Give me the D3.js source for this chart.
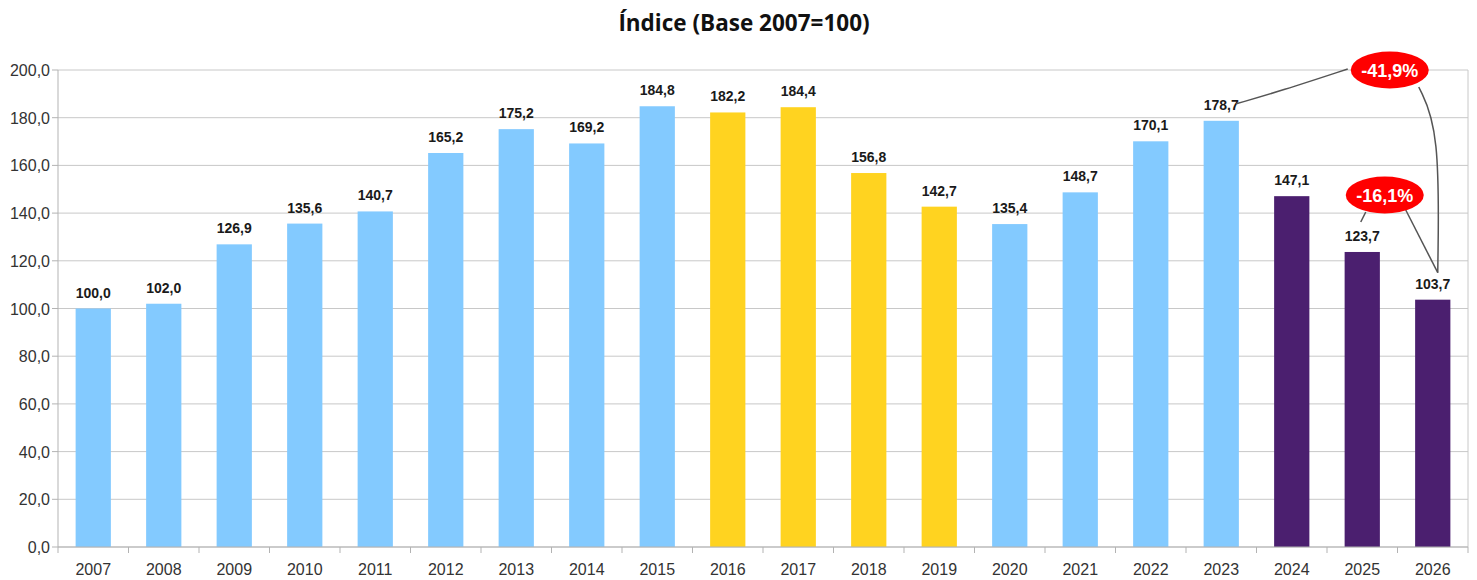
<!DOCTYPE html>
<html>
<head>
<meta charset="utf-8">
<script src="https://cdn.jsdelivr.net/npm/d3@7"></script>
<style>
  body { margin: 0; background: #fff; }
</style>
</head>
<body>
<div id="chart"></div>
<script>
// data
var years = ["2007","2008","2009","2010","2011","2012","2013","2014","2015","2016",
             "2017","2018","2019","2020","2021","2022","2023","2024","2025","2026"];
var values = [100.0, 102.0, 126.9, 135.6, 140.7, 165.2, 175.2, 169.2, 184.8, 182.2,
              184.4, 156.8, 142.7, 135.4, 148.7, 170.1, 178.7, 147.1, 123.7, 103.7];
// group of each bar: 0 = blue, 1 = yellow, 2 = purple
var groups = [0,0,0,0,0,0,0,0,0,1, 1,1,1,0,0,0,0,2,2,2];
var yTicks = [0, 20, 40, 60, 80, 100, 120, 140, 160, 180, 200];
var changes = [
  {label: "-41,9%", from: "2023", to: "2026"},
  {label: "-16,1%", from: "2025", to: "2026"}
];

var colors = ["#83caff", "#ffd320", "#4b1f6f"];
var fmt = function(v) { return d3.format(".1f")(v).replace(".", ","); };

// set the dimensions and margins of the graph
var margin = {top: 70, right: 9, bottom: 33, left: 58},
    width = 1477 - margin.left - margin.right,
    height = 580 - margin.top - margin.bottom;

var root = d3.select("#chart")
  .append("svg")
    .attr("width", 1477)
    .attr("height", 580);

// title
root.append("text")
  .attr("x", 744)
  .attr("y", 31)
  .attr("text-anchor", "middle")
  .style("font-family", "'Open Sans', sans-serif")
  .style("font-weight", "bold")
  .style("font-size", "22.5px")
  .style("fill", "#111")
  .text("Índice (Base 2007=100)");

var svg = root.append("g")
  .attr("transform", "translate(" + margin.left + "," + margin.top + ")");

var x = d3.scaleBand()
  .domain(years)
  .range([0, width])
  .paddingInner(0.5)
  .paddingOuter(0.25);

var y = d3.scaleLinear()
  .domain([0, 200])
  .range([height, 0]);

// gridlines
svg.append("g")
  .selectAll("line")
  .data(yTicks)
  .enter()
  .append("line")
    .attr("x1", 0)
    .attr("x2", width)
    .attr("y1", function(d) { return y(d); })
    .attr("y2", function(d) { return y(d); })
    .style("stroke", "#c8c8c8")
    .style("stroke-width", 1);

// right border
svg.append("line")
  .attr("x1", width).attr("x2", width)
  .attr("y1", 0).attr("y2", height)
  .style("stroke", "#c8c8c8");

// bars
svg.append("g")
  .selectAll("rect")
  .data(values)
  .enter()
  .append("rect")
    .attr("x", function(d, i) { return x(years[i]); })
    .attr("y", function(d) { return y(d); })
    .attr("width", x.bandwidth())
    .attr("height", function(d) { return height - y(d); })
    .style("fill", function(d, i) { return colors[groups[i]]; });

// value labels
svg.append("g")
  .selectAll("text")
  .data(values)
  .enter()
  .append("text")
    .text(function(d) { return fmt(d); })
    .attr("x", function(d, i) { return x(years[i]) + x.bandwidth() / 2; })
    .attr("y", function(d) { return y(d) - 11; })
    .attr("text-anchor", "middle")
    .style("font-family", "'Liberation Sans', Arial, sans-serif")
    .style("font-weight", "bold")
    .style("font-size", "14px")
    .style("fill", "#1a1a1a");

// X axis
var xStep = x.step();
var xAxis = svg.append("g")
  .attr("transform", "translate(0," + height + ")");
xAxis.append("line")
  .attr("x1", 0).attr("x2", width)
  .style("stroke", "#b3b3b3");
xAxis.selectAll("line.tick")
  .data(d3.range(years.length + 1))
  .enter()
  .append("line")
    .attr("class", "tick")
    .attr("x1", function(i) { return i * xStep; })
    .attr("x2", function(i) { return i * xStep; })
    .attr("y1", 0)
    .attr("y2", 6)
    .style("stroke", "#b3b3b3");
xAxis.selectAll("text")
  .data(years)
  .enter()
  .append("text")
    .text(function(d) { return d; })
    .attr("x", function(d) { return x(d) + x.bandwidth() / 2; })
    .attr("y", 28)
    .attr("text-anchor", "middle")
    .style("font-family", "'Liberation Sans', Arial, sans-serif")
    .style("font-size", "16px")
    .style("fill", "#333");

// Y axis
var yAxis = svg.append("g");
yAxis.append("line")
  .attr("x1", 0).attr("x2", 0)
  .attr("y1", 0).attr("y2", height)
  .style("stroke", "#b3b3b3");
yAxis.selectAll("line.tick")
  .data(yTicks)
  .enter()
  .append("line")
    .attr("class", "tick")
    .attr("x1", -6).attr("x2", 0)
    .attr("y1", function(d) { return y(d); })
    .attr("y2", function(d) { return y(d); })
    .style("stroke", "#b3b3b3");
yAxis.selectAll("text")
  .data(yTicks)
  .enter()
  .append("text")
    .text(function(d) { return fmt(d); })
    .attr("x", -8)
    .attr("y", function(d) { return y(d) + 6; })
    .attr("text-anchor", "end")
    .style("font-family", "'Liberation Sans', Arial, sans-serif")
    .style("font-size", "16px")
    .style("fill", "#333");

// change callouts
var cx = function(yr) { return x(yr) + x.bandwidth() / 2; };
var valOf = function(yr) { return values[years.indexOf(yr)]; };
var line = d3.line().curve(d3.curveBasis);

var big = changes[0], small = changes[1];
var bigC = [cx(big.to) - 43, y(200)];
var smallC = [cx(small.to) - 48, y(valOf(small.from)) - 57];
var target = [cx(big.to) + 5, y(valOf(big.to)) - 27];

var callLines = [
  [[cx(big.from) + 15, y(valOf(big.from)) - 17], [cx(big.from) + 60, y(valOf(big.from)) - 30], [bigC[0] - 42, bigC[1] - 1]],
  [[bigC[0] + 29, bigC[1] + 17], [target[0] + 2, bigC[1] + 60], target],
  [[smallC[0] - 19, smallC[1] + 17], [smallC[0] - 24, smallC[1] + 27]],
  [[smallC[0] + 21, smallC[1] + 15], target]
];

svg.append("g")
  .selectAll("path")
  .data(callLines)
  .enter()
  .append("path")
    .attr("d", function(d) { return line(d); })
    .style("fill", "none")
    .style("stroke", "#555")
    .style("stroke-width", 1.5);

var bubbles = svg.append("g")
  .selectAll("g")
  .data([{c: bigC, t: big.label}, {c: smallC, t: small.label}])
  .enter()
  .append("g")
    .attr("transform", function(d) { return "translate(" + d.c[0] + "," + d.c[1] + ")"; });
bubbles.append("ellipse")
  .attr("rx", 39)
  .attr("ry", 18.5)
  .style("fill", "#ff0000");
bubbles.append("text")
  .text(function(d) { return d.t; })
  .attr("y", 7)
  .attr("text-anchor", "middle")
  .style("font-family", "'Liberation Sans', Arial, sans-serif")
  .style("font-weight", "bold")
  .style("font-size", "18px")
  .style("fill", "#fff");
</script>
</body>
</html>
